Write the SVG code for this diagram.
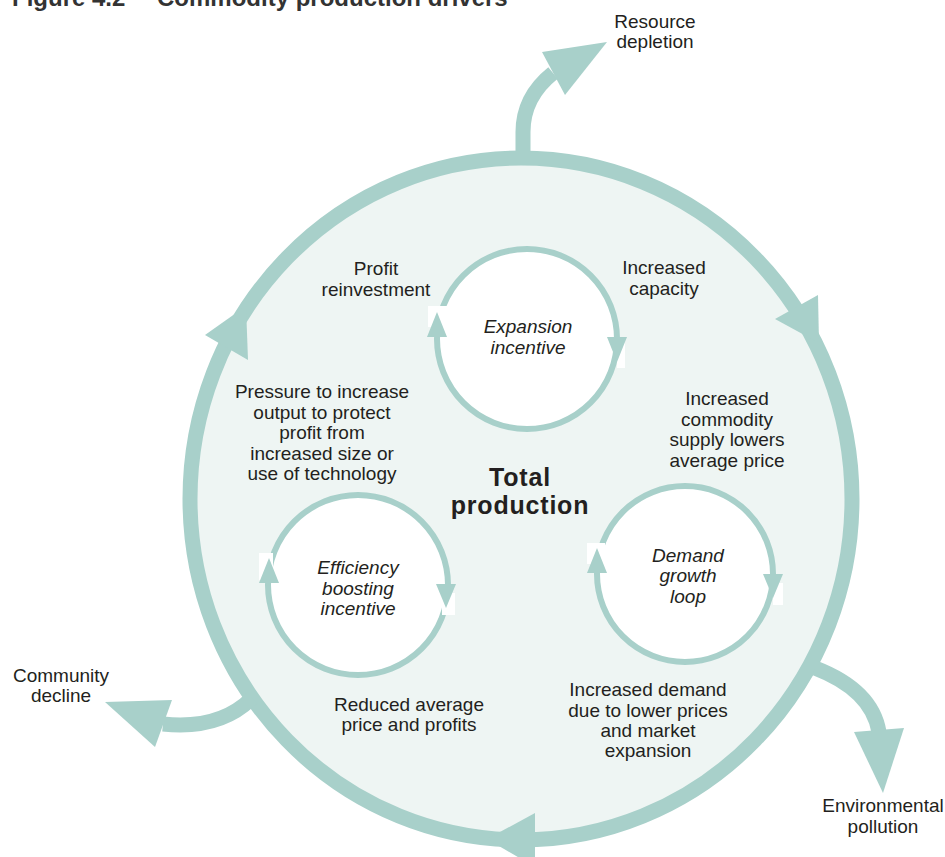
<svg xmlns="http://www.w3.org/2000/svg" width="945" height="857" viewBox="0 0 945 857">
<defs>
<style>
.t{font-family:"Liberation Sans",Arial,sans-serif;font-size:19px;fill:#231f20;text-anchor:middle}
.i{font-style:italic}
.b{font-weight:bold;font-size:25px;letter-spacing:0.8px}
.title{font-family:"Liberation Sans",Arial,sans-serif;font-weight:bold;font-size:24px;fill:#333333}
.ring{fill:none;stroke:#a8d0ca;stroke-width:15}
.stem{fill:none;stroke:#a8d0ca;stroke-width:15}
.head{fill:#a8d0ca}
.loop{fill:#ffffff;stroke:#a8d0ca;stroke-width:6}
.patch{fill:#ffffff}
</style>
</defs>
<rect width="945" height="857" fill="#ffffff"/>
<text class="title" x="12" y="6">Figure 4.2</text>
<text class="title" x="157" y="6">Commodity production drivers</text>

<g id="total-production">
<ellipse cx="521" cy="499" rx="331" ry="341" fill="#eef5f3"/>
<ellipse class="ring" cx="521" cy="499" rx="331" ry="341"/>
<text class="t b" x="520" y="486">Total</text>
<text class="t b" x="520" y="514">production</text>
</g>

<g id="connectors">
<polygon class="head" points="775,319 818,295 819,343"/>
<polygon class="head" points="205,335 248,360 246,306"/>
<polygon class="head" points="535,813 535,867 487,839"/>
<path class="stem" d="M523,155 L523,132 Q523,97 553,73"/>
<polygon class="head" points="542,52 565,95 607,42"/>
<path class="stem" d="M252,698 Q220,730 163,724"/>
<polygon class="head" points="172,700 155,747 105,702"/>
<path class="stem" d="M815,668 Q872,690 879,732"/>
<polygon class="head" points="854,732 904,728 883,793"/>
</g>

<g id="expansion-incentive">
<circle class="loop" cx="527" cy="339" r="90"/>
<rect class="patch" x="428" y="306" width="19" height="21"/>
<rect class="patch" x="617" y="337" width="8" height="31"/>
<polygon class="head" points="427,337 447,337 437,312"/>
<polygon class="head" points="607,337 627,337 617,362"/>
<text class="t i" x="528" y="333">Expansion</text>
<text class="t i" x="528" y="354">incentive</text>
</g>

<g id="efficiency-boosting-incentive">
<circle class="loop" cx="358" cy="585" r="90"/>
<rect class="patch" x="259" y="553" width="14" height="27"/>
<rect class="patch" x="442" y="593" width="13" height="22"/>
<polygon class="head" points="259,583 279,583 269,558"/>
<polygon class="head" points="436,584 456,584 446,608"/>
<text class="t i" x="358" y="574">Efficiency</text>
<text class="t i" x="358" y="595">boosting</text>
<text class="t i" x="358" y="615">incentive</text>
</g>

<g id="demand-growth-loop">
<circle class="loop" cx="685" cy="574" r="88"/>
<rect class="patch" x="587" y="543" width="18" height="21"/>
<rect class="patch" x="773" y="583" width="10" height="22"/>
<polygon class="head" points="587,573 607,573 597,548"/>
<polygon class="head" points="763,574 783,574 773,598"/>
<text class="t i" x="688" y="562">Demand</text>
<text class="t i" x="688" y="582">growth</text>
<text class="t i" x="688" y="603">loop</text>
</g>

<g id="resource-depletion">
<text class="t" x="655" y="28">Resource</text>
<text class="t" x="655" y="48">depletion</text>
</g>
<g id="profit-reinvestment">
<text class="t" x="376" y="275">Profit</text>
<text class="t" x="376" y="296">reinvestment</text>
</g>
<g id="increased-capacity">
<text class="t" x="664" y="274">Increased</text>
<text class="t" x="664" y="295">capacity</text>
</g>
<g id="increased-commodity-supply">
<text class="t" x="727" y="405">Increased</text>
<text class="t" x="727" y="426">commodity</text>
<text class="t" x="727" y="446">supply lowers</text>
<text class="t" x="727" y="467">average price</text>
</g>
<g id="pressure-to-increase-output">
<text class="t" x="322" y="398">Pressure to increase</text>
<text class="t" x="322" y="419">output to protect</text>
<text class="t" x="322" y="439">profit from</text>
<text class="t" x="322" y="460">increased size or</text>
<text class="t" x="322" y="480">use of technology</text>
</g>
<g id="reduced-average-price">
<text class="t" x="409" y="711">Reduced average</text>
<text class="t" x="409" y="731">price and profits</text>
</g>
<g id="increased-demand">
<text class="t" x="648" y="696">Increased demand</text>
<text class="t" x="648" y="717">due to lower prices</text>
<text class="t" x="648" y="737">and market</text>
<text class="t" x="648" y="757">expansion</text>
</g>
<g id="community-decline">
<text class="t" x="61" y="682">Community</text>
<text class="t" x="61" y="702">decline</text>
</g>
<g id="environmental-pollution">
<text class="t" x="883" y="812">Environmental</text>
<text class="t" x="883" y="833">pollution</text>
</g>
</svg>
